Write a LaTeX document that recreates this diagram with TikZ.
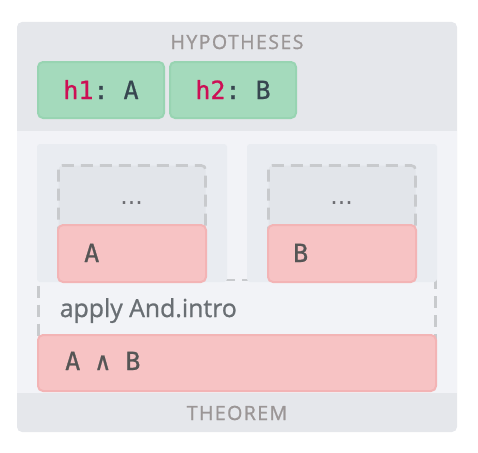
\documentclass[tikz,border=0pt]{standalone}
\usepackage{fontspec}
\setsansfont{Open Sans}[FakeBold=1]
\setmonofont{DejaVu Sans Mono}[FakeBold=0.8]
\newfontfamily\capsfont{Open Sans}[LetterSpace=7, FakeBold=1]
\newfontfamily\dotsfont{DejaVu Sans}
\usepackage{tikz}
\definecolor{panelgray}{RGB}{229,231,235}
\definecolor{bodygray}{RGB}{242,243,247}
\definecolor{columngray}{RGB}{233,236,241}
\definecolor{holegray}{RGB}{226,229,234}
\definecolor{dashgray}{RGB}{200,202,205}
\definecolor{hypgreen}{RGB}{164,218,188}
\definecolor{hypgreenline}{RGB}{152,212,178}
\definecolor{goalred}{RGB}{247,195,196}
\definecolor{goalredline}{RGB}{243,180,181}
\definecolor{labelgray}{RGB}{155,150,150}
\definecolor{hypname}{RGB}{205,15,85}
\definecolor{hyptype}{RGB}{55,70,80}
\definecolor{goaltext}{RGB}{85,85,85}
\definecolor{tactictext}{RGB}{105,110,115}
\definecolor{dotsgray}{RGB}{110,110,115}

\begin{document}
\begin{tikzpicture}[x=1pt, y=-1pt,
    hypbox/.style={fill=hypgreen, draw=hypgreenline, line width=2pt, rounded corners=5pt},
    goalbox/.style={fill=goalred, draw=goalredline, line width=2pt, rounded corners=5pt},
    holeline/.style={draw=dashgray, line width=2.6pt, dash pattern=on 12pt off 7pt},
    holebox/.style={holeline, fill=holegray, rounded corners=4pt},
    caption/.style={font=\capsfont\fontsize{19.6}{20}\selectfont, text=labelgray, inner sep=0pt, anchor=base},
    code/.style={font=\ttfamily\fontsize{25}{25}\selectfont, inner sep=0pt, anchor=base west}]
    \useasboundingbox (0,0) rectangle (478,452);
    % panel
    \fill[panelgray, rounded corners=5pt] (17,22) rectangle (457,432);
    \fill[bodygray] (17,131) rectangle (457,393);
    % hypotheses
    \node[caption] (hyps) at (237,49) {HYPOTHESES};
    \draw[hypbox] (38,62) rectangle (164,118);
    \draw[hypbox] (170,62) rectangle (296,118);
    \node[code, anchor=base, text=hyptype] (h1) at (101,99) {\textcolor{hypname}{h1}: A};
    \node[code, anchor=base, text=hyptype] (h2) at (233,99) {\textcolor{hypname}{h2}: B};
    % tactic
    \draw[holeline, dash phase=13.5pt, fill=bodygray] (38.5,280) rectangle (435.5,345);
    \node[font=\sffamily\fontsize{24.8}{25}\selectfont, text=tactictext, inner sep=0pt, anchor=base west] (tactic) at (59.6,317) {apply And.intro};
    % subgoals
    \fill[columngray, rounded corners=3pt] (37,144) rectangle (227,282);
    \fill[columngray, rounded corners=3pt] (247,144) rectangle (437,282);
    \draw[holebox] (58.5,165.5) rectangle (205.5,240);
    \draw[holebox] (268.5,165.5) rectangle (415.5,240);
    \node[font=\dotsfont\fontsize{23.6}{24}\selectfont, text=dotsgray, inner sep=0pt, anchor=base] (dotsA) at (131.5,204) {...};
    \node[font=\dotsfont\fontsize{23.6}{24}\selectfont, text=dotsgray, inner sep=0pt, anchor=base] (dotsB) at (341.5,204) {...};
    \draw[goalbox] (58,225) rectangle (206,282);
    \draw[goalbox] (268,225) rectangle (416,282);
    \node[code, text=goaltext] (goalA) at (84,262) {A};
    \node[code, text=goaltext] (goalB) at (293,262) {B};
    % theorem
    \draw[goalbox] (38,335) rectangle (436,391);
    \node[code, text=goaltext] (thm) at (65,370) {A ∧ B};
    \node[caption] (theorem) at (237,420) {THEOREM};
\end{tikzpicture}
\end{document}
